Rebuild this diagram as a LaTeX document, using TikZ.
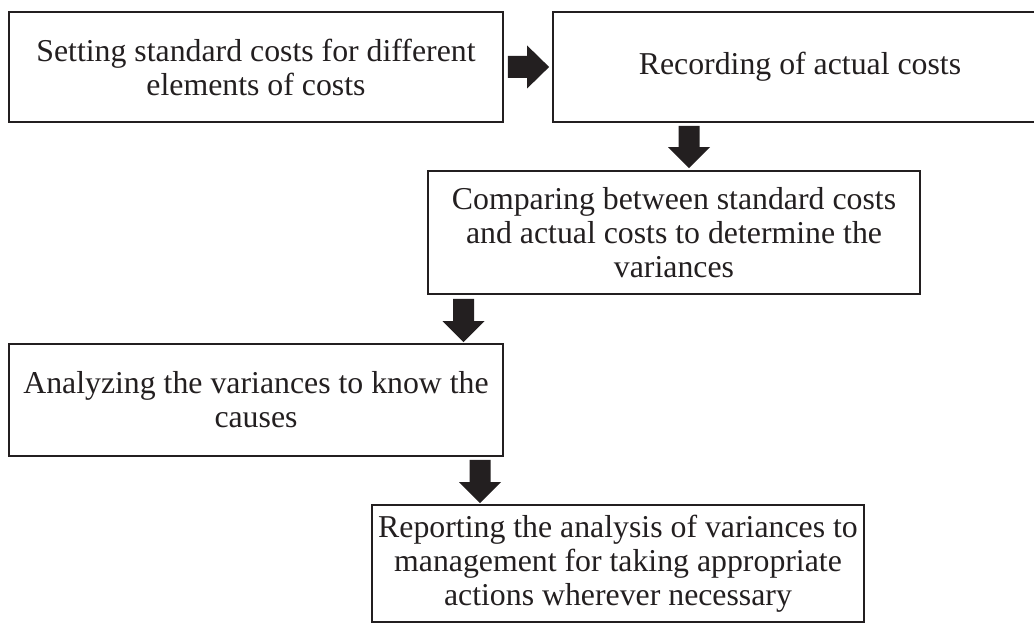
\documentclass[tikz,border=0pt]{standalone}
\usepackage{fontspec}
\setmainfont{Liberation Serif}
\usetikzlibrary{calc}
\definecolor{ink}{HTML}{231F20}
\newcommand\rblockarrow[2]{%
  \fill[arrowfill] let \p1=(#1), \p2=(#2) in
    (\x1,\y1+11pt) -- (\x2-22pt,\y1+11pt) -- (\x2-22pt,\y1+21.5pt) -- (\x2,\y1)
    -- (\x2-22pt,\y1-21.5pt) -- (\x2-22pt,\y1-11pt) -- (\x1,\y1-11pt) -- cycle;}
\newcommand\dblockarrow[3]{%
  \fill[arrowfill] let \p1=(#2), \p2=(#3) in
    (#1-10.5pt,\y1) -- (#1-10.5pt,\y2+21pt) -- (#1-21pt,\y2+21pt) -- (#1,\y2)
    -- (#1+21pt,\y2+21pt) -- (#1+10.5pt,\y2+21pt) -- (#1+10.5pt,\y1) -- cycle;}
\begin{document}
\begin{tikzpicture}[x=1pt,y=1pt,
  box/.style={draw=ink, line width=1.8pt, rectangle, inner sep=0pt, align=center,
    text=ink, font=\fontsize{31.8}{34}\selectfont},
  arrowfill/.style={fill=ink}]
\useasboundingbox (0,0) rectangle (1034,624);
\clip (0,0) rectangle (1034,624);
\fill[white] (0,0) rectangle (1034,624);
\node[box, minimum width=494pt, minimum height=110pt] (b1) at (256,557)
  {Setting standard costs for different\\elements of costs};
\node[box, minimum width=494pt, minimum height=110pt] (b2) at (800,557)
  {Recording of actual costs};
\node[box, minimum width=492pt, minimum height=123pt] (b3) at (674,391.5)
  {Comparing between standard costs\\and actual costs to determine the\\variances};
\node[box, minimum width=494pt, minimum height=112pt] (b4) at (256,224)
  {Analyzing the variances to know the\\causes};
\node[box, minimum width=492pt, minimum height=117pt] (b5) at (618,60.5)
  {Reporting the analysis of variances to\\management for taking appropriate\\actions wherever necessary};
\rblockarrow{$(b1.east)+(4,0)$}{$(b2.west)+(-3,0)$}
\dblockarrow{689pt}{$(b2.south)+(0,-3)$}{$(b3.north)+(0,2)$}
\dblockarrow{463.5pt}{$(b3.south)+(0,-4)$}{$(b4.north)+(0,1)$}
\dblockarrow{480pt}{$(b4.south)+(0,-3)$}{$(b5.north)+(0,1)$}
\end{tikzpicture}
\end{document}
